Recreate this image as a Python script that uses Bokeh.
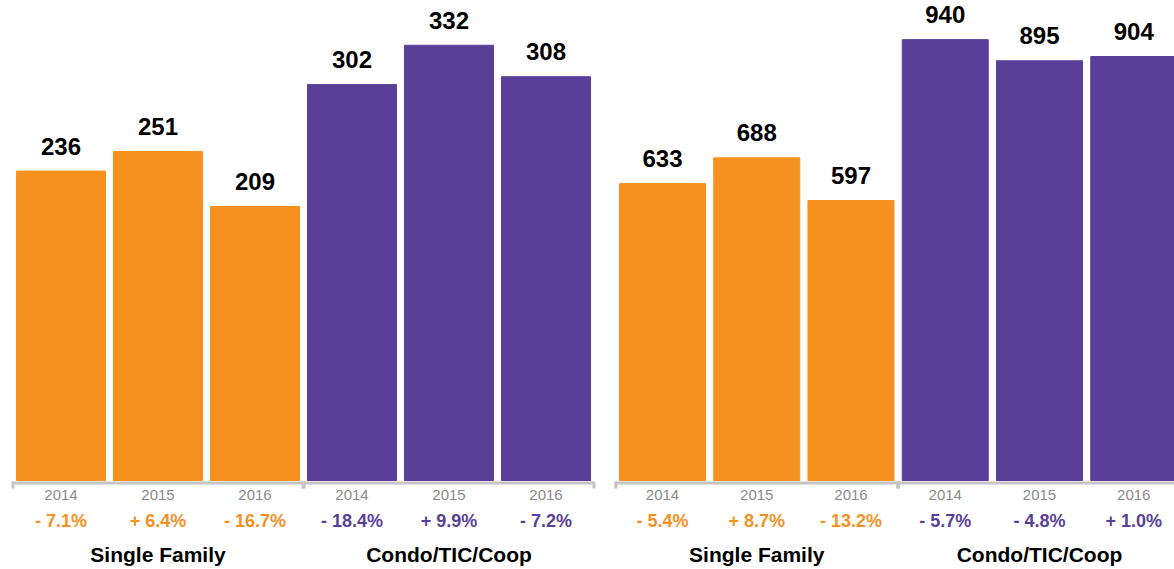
from bokeh.plotting import figure
from bokeh.layouts import row
from bokeh.models import ColumnDataSource, Range1d
from bokeh.core.properties import value
from bokeh.embed import file_html
from bokeh.resources import INLINE

# ---- data ----
years = ["2014", "2015", "2016"]
groups = ["Single Family", "Condo/TIC/Coop"]

left_sf_values = [236, 251, 209]
left_condo_values = [302, 332, 308]
left_sf_changes = ["- 7.1%", "+ 6.4%", "- 16.7%"]
left_condo_changes = ["- 18.4%", "+ 9.9%", "- 7.2%"]

right_sf_values = [633, 688, 597]
right_condo_values = [940, 895, 904]
right_sf_changes = ["- 5.4%", "+ 8.7%", "- 13.2%"]
right_condo_changes = ["- 5.7%", "- 4.8%", "+ 1.0%"]

ORANGE = "#F6901F"
PURPLE = "#5A3F99"
FONT = "Liberation Sans"
H = 569


def make_panel(width, first_center_px, step_px, bar_frac, px_per_unit,
               sf_vals, condo_vals, sf_ch, condo_ch):
    x_start = -first_center_px / step_px
    x_end = x_start + width / step_px
    base_px = 480  # baseline distance from top of canvas
    y_end = base_px / px_per_unit
    y_start = -(H - base_px) / px_per_unit

    p = figure(width=width, height=H, x_range=Range1d(x_start, x_end),
               y_range=Range1d(y_start, y_end), output_backend="svg",
               toolbar_location=None, x_axis_location=None, y_axis_location=None,
               min_border=0, outline_line_color=None)
    p.grid.grid_line_color = None

    xs = list(range(6))
    vals = sf_vals + condo_vals
    colors = [ORANGE] * 3 + [PURPLE] * 3
    src = ColumnDataSource(dict(
        x=xs, top=vals, color=colors,
        label=[str(v) for v in vals],
        year=years + years,
        change=sf_ch + condo_ch,
    ))
    p.vbar(x="x", top="top", bottom=0, width=bar_frac, color="color", source=src)

    # value labels
    p.text(x="x", y="top", text="label", source=src, text_align="center",
           text_baseline="middle", y_offset=-25, text_font=value(FONT),
           text_font_style="bold", text_font_size="24px", text_color="#000000")
    # year labels
    p.text(x="x", y=0, text="year", source=src, text_align="center",
           text_baseline="middle", y_offset=14, text_font=value(FONT),
           text_font_size="15px", text_color="#8a8a8a")
    # change labels
    p.text(x="x", y=0, text="change", source=src, text_align="center",
           text_baseline="middle", y_offset=40, text_font=value(FONT),
           text_font_style="bold", text_font_size="18px", text_color="color")
    # group labels
    gsrc = ColumnDataSource(dict(x=[1, 4], g=groups))
    p.text(x="x", y=0, text="g", source=gsrc, text_align="center",
           text_baseline="middle", y_offset=74, text_font=value(FONT),
           text_font_style="bold", text_font_size="21px", text_color="#000000")

    # brackets under each group
    ly = -2.5 / px_per_unit
    t0 = -1.0 / px_per_unit
    t1 = -8.0 / px_per_unit
    bx0 = [3 * g - 0.495 for g in range(2)]
    bx1 = [3 * g + 2.495 for g in range(2)]
    p.segment(x0=bx0, x1=bx1, y0=[ly, ly], y1=[ly, ly], line_color="#c4c4c4",
              line_width=3)
    p.segment(x0=bx0 + bx1, x1=bx0 + bx1, y0=[t0] * 4, y1=[t1] * 4,
              line_color="#c4c4c4", line_width=3)
    return p


left = make_panel(604, 60.5, 97.0, 0.918, 1.311,
                  left_sf_values, left_condo_values, left_sf_changes, left_condo_changes)
right = make_panel(570, 58.0, 94.25, 0.9125, 0.469,
                   right_sf_values, right_condo_values, right_sf_changes, right_condo_changes)

layout = row(left, right, spacing=0)
open("out.html", "w").write(file_html(layout, INLINE))
